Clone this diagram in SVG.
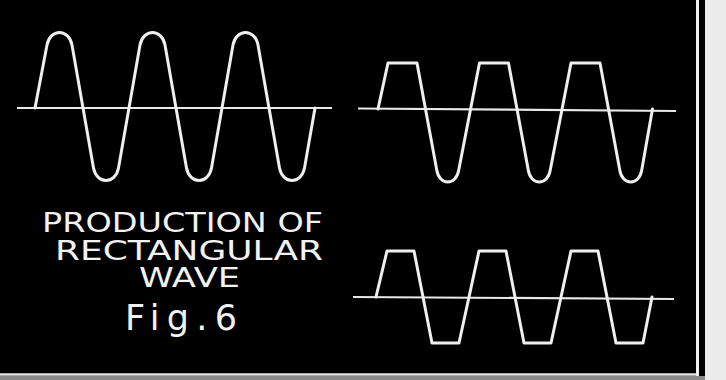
<svg xmlns="http://www.w3.org/2000/svg" width="726" height="380" viewBox="0 0 726 380">
  <style>
    .wave { fill: none; stroke: #efefef; stroke-width: 3; stroke-linejoin: round; stroke-linecap: round; }
    .axis { fill: none; stroke: #e8e8e8; stroke-width: 2.2; }
    .lbl { font-family: "DejaVu Sans", "Liberation Sans", sans-serif; fill: #f2f2f2; font-size: 26px; }
    .fig { font-family: "DejaVu Sans", "Liberation Sans", sans-serif; fill: #f2f2f2; font-size: 35px; }
  </style>
  <rect x="0" y="0" width="726" height="380" fill="#000"/>
  <rect x="705" y="0" width="21" height="380" fill="#ececec"/>
  <rect x="0" y="376" width="705" height="4" fill="#8a8a8a"/>
  <line x1="697.5" y1="0" x2="697.5" y2="376" stroke="#f0f0f0" stroke-width="3"/>
  <line x1="0" y1="374.5" x2="697" y2="374.5" stroke="#e6e6e6" stroke-width="2.5"/>

  <g id="sine-wave">
    <path class="axis" d="M17,108 L332,108"/>
    <path class="wave" d="M35,108 L47,45 C50.2,28.3 68.8,28.3 72,45 L93.5,168 C96.7,184.7 115.3,184.7 118.5,168 L140,45 C143.2,28.3 161.8,28.3 165,45 L186.5,168 C189.7,184.7 208.3,184.7 211.5,168 L233,45 C236.2,28.3 254.8,28.3 258,45 L279.5,168 C282.7,184.7 301.3,184.7 304.5,168 L315,108"/>
  </g>

  <g id="top-clipped-wave">
    <path class="axis" d="M358,108.5 L676,111"/>
    <path class="wave" d="M378,109 L388,63 L417,63 L436.75,170 C439.25,186 456.25,186 458.75,170 L479.5,63 L508.5,63 L528.25,170 C530.75,186 547.75,186 550.25,170 L571,63 L600,63 L619.75,170 C622.25,186 639.25,186 641.75,170 L652.5,109"/>
  </g>

  <g id="rectangular-wave">
    <path class="axis" d="M353,297 L674,299"/>
    <path class="wave" d="M376,297 L387,251 L414,251 L432,343 L459,343 L479,251 L506,251 L524,343 L551,343 L571,251 L598,251 L616,343 L643,343 L652,297"/>
  </g>

  <g id="caption">
    <text class="lbl" x="42" y="232" textLength="281" lengthAdjust="spacingAndGlyphs">PRODUCTION OF</text>
    <text class="lbl" x="55" y="260" textLength="268" lengthAdjust="spacingAndGlyphs">RECTANGULAR</text>
    <text class="lbl" x="139" y="287" textLength="101" lengthAdjust="spacingAndGlyphs">WAVE</text>
    <text class="fig" x="125" y="330" textLength="112" lengthAdjust="spacing">Fig.6</text>
  </g>
</svg>
